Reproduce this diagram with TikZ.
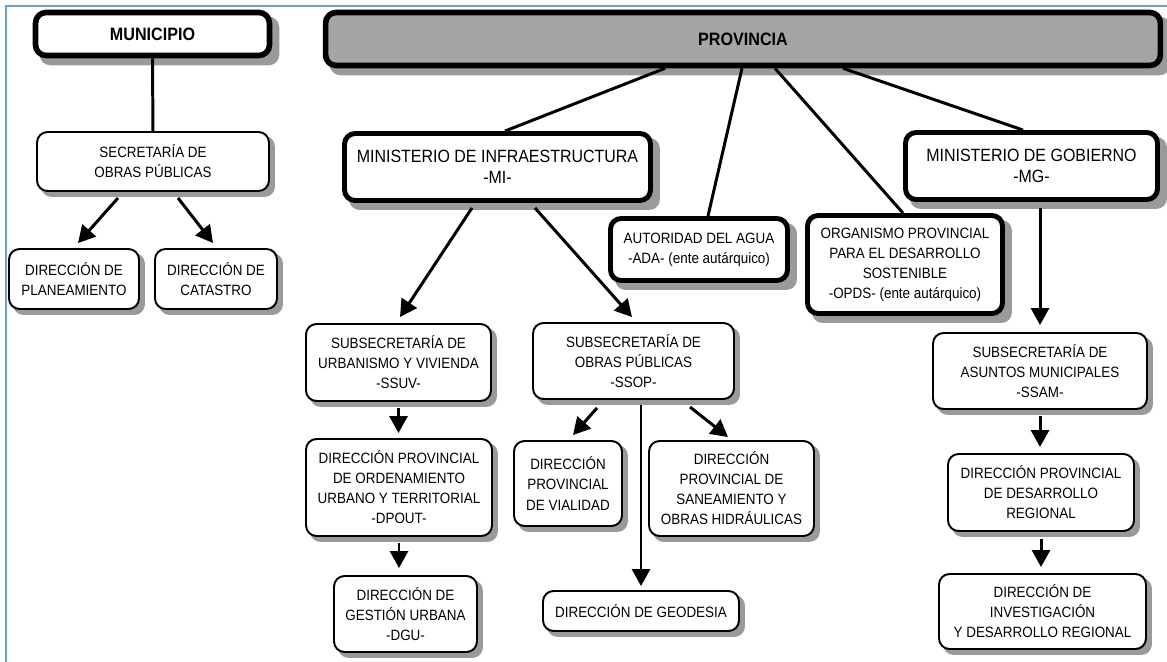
\documentclass[tikz,border=0pt]{standalone}
\usepackage{fontspec}
\setmainfont[FakeStretch=0.9]{Liberation Sans}
\usepackage{tikz}
\usetikzlibrary{arrows.meta}
\definecolor{provgray}{HTML}{A5A5A5}
\definecolor{frameblue}{HTML}{6A9FDB}
\definecolor{shadowgray}{HTML}{9A9A9A}
\pgfdeclarelayer{shadowlayer}
\pgfsetlayers{shadowlayer,main}

\tikzset{
  box/.style={draw, line width=1.1pt, rounded corners=6pt, fill=white, align=center,
    inner sep=2pt, font=\fontsize{8.5}{11.4}\selectfont},
  bigbox/.style={box, line width=2.8pt},
  headbox/.style={bigbox, line width=3.2pt, font=\fontsize{10.2}{12}\selectfont\bfseries},
  ministry/.style={bigbox, font=\fontsize{10.1}{12}\selectfont},
  boxshadow/.style={fill=shadowgray, rounded corners=6pt},
  link/.style={line width=1.7pt},
  arr/.style={line width=1.7pt, -{Triangle[length=0.34cm, width=0.36cm]}}
}

\begin{document}
\begin{tikzpicture}[x=0.02cm, y=-0.02cm]
  \useasboundingbox (0,0) rectangle (1167,662);
  \draw[frameblue, line width=1.2pt] (6,662) -- (6,6) -- (1167,6);

  % municipio
  \node[headbox, minimum width=4.68cm, minimum height=0.86cm] (muni) at (152.5,34) {MUNICIPIO};
  \node[box, minimum width=4.64cm, minimum height=1.18cm] (sop) at (153,161.5) {SECRETARÍA DE\\OBRAS PÚBLICAS};
  \node[box, minimum width=2.6cm, minimum height=1.2cm] (plan) at (74,279) {DIRECCIÓN DE\\PLANEAMIENTO};
  \node[box, minimum width=2.44cm, minimum height=1.2cm] (cat) at (216,279) {DIRECCIÓN DE\\CATASTRO};

  % provincia
  \node[headbox, fill=provgray, minimum width=16.7cm, minimum height=1.06cm] (prov) at (743,39) {PROVINCIA};
  \node[ministry, minimum width=6.12cm, minimum height=1.34cm] (mi) at (497.5,167) {MINISTERIO DE INFRAESTRUCTURA\\-MI-};
  \node[ministry, minimum width=5.04cm, minimum height=1.34cm] (mg) at (1031.5,166) {MINISTERIO DE GOBIERNO\\-MG-};
  \node[bigbox, minimum width=3.54cm, minimum height=1.24cm] (ada) at (699,249.5) {AUTORIDAD DEL AGUA\\-ADA- (ente autárquico)};
  \node[bigbox, minimum width=3.9cm, minimum height=1.96cm] (opds) at (905,264.5) {ORGANISMO PROVINCIAL\\PARA EL DESARROLLO\\SOSTENIBLE\\-OPDS- (ente autárquico)};

  % infraestructura
  \node[box, minimum width=3.7cm, minimum height=1.54cm] (ssuv) at (398.5,362.5) {SUBSECRETARÍA DE\\URBANISMO Y VIVIENDA\\-SSUV-};
  \node[box, minimum width=4.02cm, minimum height=1.52cm] (ssop) at (633.5,361) {SUBSECRETARÍA DE\\OBRAS PÚBLICAS\\-SSOP-};
  \node[box, minimum width=3.72cm, minimum height=1.94cm] (dpout) at (399,487.5) {DIRECCIÓN PROVINCIAL\\DE ORDENAMIENTO\\URBANO Y TERRITORIAL\\-DPOUT-};
  \node[box, minimum width=2.86cm, minimum height=1.52cm] (dgu) at (405.5,614) {DIRECCIÓN DE\\GESTIÓN URBANA\\-DGU-};
  \node[box, minimum width=2.16cm, minimum height=1.7cm] (vial) at (568,483.5) {DIRECCIÓN\\PROVINCIAL\\DE VIALIDAD};
  \node[box, minimum width=3.3cm, minimum height=1.9cm] (sane) at (731.5,488.5) {DIRECCIÓN\\PROVINCIAL DE\\SANEAMIENTO Y\\OBRAS HIDRÁULICAS};
  \node[box, minimum width=3.92cm, minimum height=0.8cm] (geo) at (641,611) {DIRECCIÓN DE GEODESIA};

  % gobierno
  \node[box, minimum width=4.28cm, minimum height=1.52cm] (ssam) at (1040,371) {SUBSECRETARÍA DE\\ASUNTOS MUNICIPALES\\-SSAM-};
  \node[box, minimum width=3.72cm, minimum height=1.54cm] (dpdr) at (1041,492.5) {DIRECCIÓN PROVINCIAL\\DE DESARROLLO\\REGIONAL};
  \node[box, minimum width=4.14cm, minimum height=1.5cm] (didr) at (1042.5,611.5) {DIRECCIÓN DE\\INVESTIGACIÓN\\Y DESARROLLO REGIONAL};

  % shadows
  \begin{pgfonlayer}{shadowlayer}
    \foreach \n in {sop,plan,cat,ssuv,ssop,dpout,dgu,vial,sane,geo,ssam,dpdr,didr}
      \fill[boxshadow] ([shift={(0.1cm,-0.1cm)}]\n.south west) rectangle ([shift={(0.1cm,-0.1cm)}]\n.north east);
    \foreach \n in {muni,prov,mi,mg,ada,opds}
      \fill[boxshadow] ([shift={(0.14cm,-0.14cm)}]\n.south west) rectangle ([shift={(0.14cm,-0.14cm)}]\n.north east);
  \end{pgfonlayer}

  % connectors
  \draw[link] (muni) -- (sop);
  \draw[arr] ([xshift=-0.7cm, yshift=-0.12cm]sop.south) -- ([xshift=0.08cm, yshift=0.1cm]plan.north);
  \draw[arr] ([xshift=0.5cm, yshift=-0.12cm]sop.south) -- ([xshift=-0.06cm, yshift=0.1cm]cat.north);

  \draw[link] ([xshift=-1.56cm]prov.south) -- ([xshift=0.15cm]mi.north);
  \draw[link] ([xshift=-0.02cm]prov.south) -- ([xshift=0.18cm]ada.north);
  \draw[link] ([xshift=0.64cm]prov.south) -- ([xshift=-0.04cm]opds.north);
  \draw[link] ([xshift=2cm]prov.south) -- ([xshift=-0.17cm]mg.north);

  \draw[arr] ([xshift=-0.51cm, yshift=-0.1cm]mi.south) -- ([xshift=0.03cm, yshift=0.12cm]ssuv.north);
  \draw[arr] ([xshift=0.75cm, yshift=-0.1cm]mi.south) -- ([xshift=-0.03cm, yshift=0.1cm]ssop.north);
  \draw[arr, shorten <=0.12cm, shorten >=0.1cm] (ssuv.south) -- (ssuv.south |- dpout.north);
  \draw[arr, shorten <=0.12cm, shorten >=0.14cm] (dpout.south) -- (dpout.south |- dgu.north);
  \draw[arr] ([xshift=-0.73cm, yshift=-0.16cm]ssop.south) -- ([xshift=0.1cm, yshift=0.1cm]vial.north);
  \draw[arr, shorten <=0.1cm, shorten >=0.08cm] (geo.north |- ssop.south) -- (geo.north);
  \draw[arr] ([xshift=1.13cm, yshift=-0.14cm]ssop.south) -- ([xshift=-0.07cm, yshift=0.06cm]sane.north);

  \draw[arr, shorten <=0.12cm, shorten >=0.14cm] (ssam.north |- mg.south) -- (ssam.north);
  \draw[arr, shorten <=0.12cm, shorten >=0.12cm] (ssam.south) -- (ssam.south |- dpdr.north);
  \draw[arr, shorten <=0.14cm, shorten >=0.12cm] (dpdr.south) -- (dpdr.south |- didr.north);
\end{tikzpicture}
\end{document}
